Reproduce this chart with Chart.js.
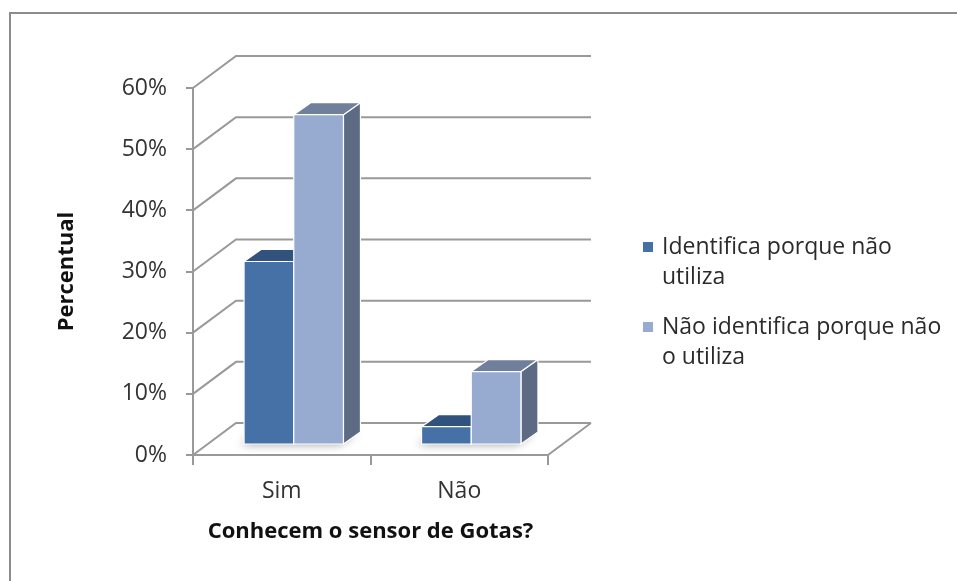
<!DOCTYPE html>
<html>
<head>
<meta charset="utf-8">
<script src="https://cdn.jsdelivr.net/npm/chart.js@4.4.0/dist/chart.umd.min.js"></script>
<style>
  html, body { margin: 0; padding: 0; background: #fff; }
  #wrap { width: 957px; height: 581px; }
</style>
</head>
<body>
<div id="wrap"><canvas id="sensorChart" width="957" height="581"></canvas></div>
<script>
// data
const categories = ['Sim', 'Não'];
const seriesLabels = [['Identifica porque não', 'utiliza'], ['Não identifica porque não', 'o utiliza']];
const identificaValues = [30, 3];
const naoIdentificaValues = [54, 12];
const yMax = 60;
const yStep = 10;
const xTitle = 'Conhecem o sensor de Gotas?';
const yTitle = 'Percentual';

const frontColors = ['#4671a7', '#97abd1'];
const topColors = ['#30527c', '#6f7f9c'];
const sideColors = ['#2f4d74', '#5c6a84'];
const gridColor = '#999999';
const FONT = '"Open Sans", Lato, sans-serif';

// fake 3d: back wall offset and column depth
const WALL_DX = 43, WALL_DY = -32;
const BAR_SHIFT_X = 12, BAR_SHIFT_Y = -10;
const BAR_DX = 17, BAR_DY = -12;

function poly(ctx, pts, fill, stroke) {
  ctx.beginPath();
  ctx.moveTo(pts[0][0], pts[0][1]);
  for (let i = 1; i < pts.length; i++) ctx.lineTo(pts[i][0], pts[i][1]);
  ctx.closePath();
  ctx.fillStyle = fill;
  ctx.fill();
  if (stroke) {
    ctx.strokeStyle = stroke;
    ctx.lineWidth = 1.2;
    ctx.stroke();
  }
}

const box3d = {
  id: 'box3d',
  beforeDraw(chart) {
    const ctx = chart.ctx;
    ctx.save();
    ctx.fillStyle = '#fff';
    ctx.fillRect(0, 0, chart.width, chart.height);
    // outer frame (only top and left visible in the original)
    ctx.strokeStyle = '#8c8c8c';
    ctx.lineWidth = 2;
    ctx.beginPath();
    ctx.moveTo(10, chart.height);
    ctx.lineTo(10, 13);
    ctx.lineTo(chart.width, 13);
    ctx.stroke();
    ctx.restore();
  },
  beforeDatasetsDraw(chart) {
    const { ctx, chartArea: a, scales: { y } } = chart;
    ctx.save();
    ctx.strokeStyle = gridColor;
    ctx.lineWidth = 2;
    ctx.beginPath();
    y.ticks.forEach(t => {
      const py = y.getPixelForValue(t.value);
      ctx.moveTo(a.left, py);
      ctx.lineTo(a.left + WALL_DX, py + WALL_DY);
      ctx.lineTo(a.right + WALL_DX, py + WALL_DY);
    });
    const base = y.getPixelForValue(0);
    ctx.moveTo(a.right, base);
    ctx.lineTo(a.right + WALL_DX, base + WALL_DY);
    ctx.stroke();
    ctx.restore();
  },
  afterDatasetsDraw(chart) {
    const ctx = chart.ctx;
    ctx.save();
    // soft shadow on the floor
    categories.forEach((c, i) => {
      const first = chart.getDatasetMeta(0).data[i].getProps(['x', 'base', 'width'], true);
      const last = chart.getDatasetMeta(chart.data.datasets.length - 1).data[i].getProps(['x', 'base', 'width'], true);
      const L = first.x - first.width / 2 + BAR_SHIFT_X;
      const R = last.x + last.width / 2 + BAR_SHIFT_X;
      const B = first.base + BAR_SHIFT_Y;
      ctx.save();
      ctx.shadowColor = 'rgba(0,0,0,0.35)';
      ctx.shadowBlur = 8;
      ctx.shadowOffsetX = -4;
      ctx.shadowOffsetY = 1;
      poly(ctx, [[L, B], [R, B], [R + BAR_DX, B + BAR_DY], [L + BAR_DX, B + BAR_DY]], '#d8d8d8');
      ctx.restore();
    });
    chart.data.datasets.forEach((ds, di) => {
      chart.getDatasetMeta(di).data.forEach(el => {
        const p = el.getProps(['x', 'y', 'base', 'width'], true);
        const L = p.x - p.width / 2 + BAR_SHIFT_X;
        const R = p.x + p.width / 2 + BAR_SHIFT_X;
        const T = p.y + BAR_SHIFT_Y;
        const B = p.base + BAR_SHIFT_Y;
        poly(ctx, [[R, T], [R + BAR_DX, T + BAR_DY], [R + BAR_DX, B + BAR_DY], [R, B]], sideColors[di], '#ffffff');
        poly(ctx, [[L, T], [R, T], [R + BAR_DX, T + BAR_DY], [L + BAR_DX, T + BAR_DY]], topColors[di], '#ffffff');
        poly(ctx, [[L, T], [R, T], [R, B], [L, B]], frontColors[di], '#ffffff');
      });
    });
    ctx.restore();
  },
  afterDraw(chart) {
    const ctx = chart.ctx;
    ctx.save();
    ctx.font = '23px ' + FONT;
    ctx.textBaseline = 'middle';
    ctx.textAlign = 'left';
    const rowY = [247, 327];
    seriesLabels.forEach((lines, i) => {
      ctx.fillStyle = frontColors[i];
      ctx.fillRect(643, rowY[i] - 5, 10, 10);
      ctx.fillStyle = '#2b2b2b';
      lines.forEach((t, k) => ctx.fillText(t, 662, rowY[i] + k * 30));
    });
    ctx.restore();
  }
};

new Chart(document.getElementById('sensorChart'), {
  type: 'bar',
  data: {
    labels: categories,
    datasets: [
      { label: seriesLabels[0].join(' '), data: identificaValues, backgroundColor: 'rgba(0,0,0,0)', borderWidth: 0 },
      { label: seriesLabels[1].join(' '), data: naoIdentificaValues, backgroundColor: 'rgba(0,0,0,0)', borderWidth: 0 }
    ]
  },
  options: {
    responsive: false,
    animation: false,
    layout: { padding: { left: 20, top: 88, right: 409, bottom: 0 } },
    datasets: { bar: { categoryPercentage: 0.56, barPercentage: 1 } },
    plugins: {
      legend: { display: false },
      tooltip: { enabled: false }
    },
    scales: {
      x: {
        offset: true,
        grid: { offset: true, drawOnChartArea: false, tickLength: 10, color: gridColor, lineWidth: 2 },
        border: { display: true, color: gridColor, width: 2 },
        ticks: { color: '#333', font: { family: FONT, size: 23 }, padding: 13 },
        title: {
          display: true, text: xTitle, color: '#111',
          font: { family: FONT, size: 22, weight: 'bold' },
          padding: { top: 0, bottom: 36 }
        },
        afterFit(scale) { scale.height = 126; }
      },
      y: {
        min: 0,
        max: yMax,
        ticks: {
          stepSize: yStep,
          callback: v => v + '%',
          color: '#333',
          font: { family: FONT, size: 23 },
          padding: 19
        },
        grid: { drawOnChartArea: false, tickLength: 7, color: gridColor, lineWidth: 2 },
        border: { display: true, color: gridColor, width: 2 },
        title: {
          display: true, text: yTitle, color: '#111',
          font: { family: FONT, size: 22, weight: 'bold' },
          padding: { top: 34, bottom: 0 }
        },
        afterFit(scale) { scale.width = 173; }
      }
    }
  },
  plugins: [box3d]
});
</script>
</body>
</html>
